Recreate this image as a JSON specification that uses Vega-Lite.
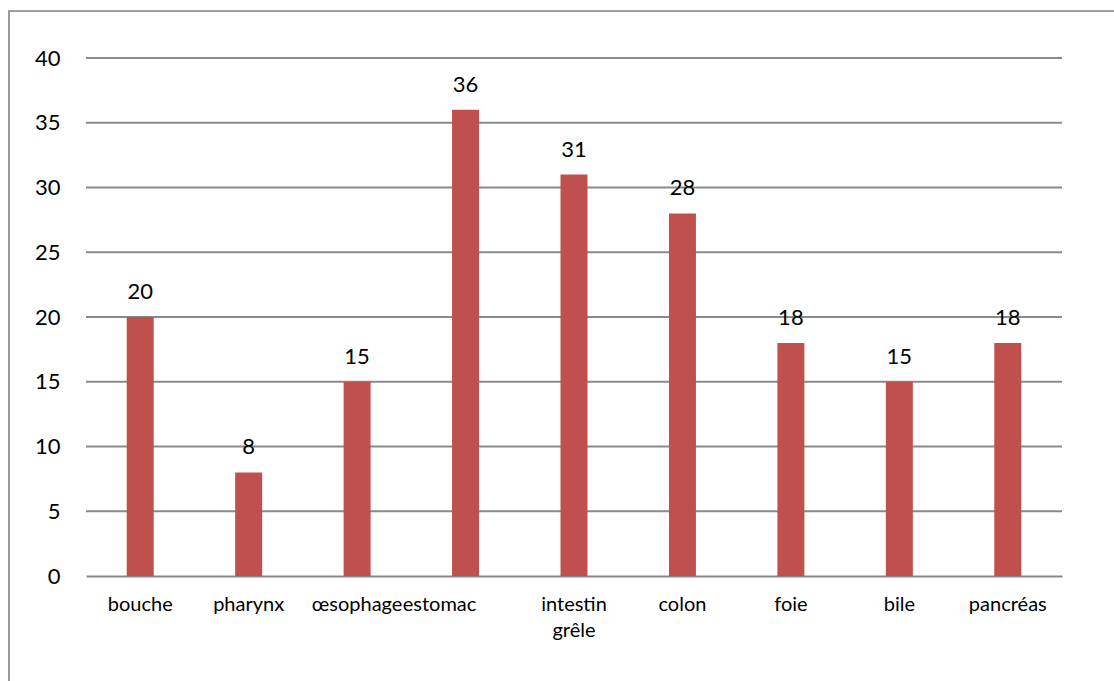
{
  "$schema": "https://vega.github.io/schema/vega-lite/v6.json",
  "autosize": {"type": "none"},
  "width": 976,
  "height": 518,
  "padding": {"left": 86, "top": 58, "right": 52, "bottom": 105},
  "background": "white",
  "config": {
    "view": {"stroke": null},
    "font": "Lato"
  },
  "datasets": {
    "organes": [
      {"organe": "bouche", "valeur": 20},
      {"organe": "pharynx", "valeur": 8},
      {"organe": "œsophage", "valeur": 15},
      {"organe": "estomac", "valeur": 36},
      {"organe": "intestin grêle", "valeur": 31},
      {"organe": "colon", "valeur": 28},
      {"organe": "foie", "valeur": 18},
      {"organe": "bile", "valeur": 15},
      {"organe": "pancréas", "valeur": 18}
    ],
    "grille": [
      {"valeur": 5}, {"valeur": 10}, {"valeur": 15}, {"valeur": 20},
      {"valeur": 25}, {"valeur": 30}, {"valeur": 35}, {"valeur": 40}
    ]
  },
  "data": {"name": "organes"},
  "layer": [
    {
      "description": "outer chart frame",
      "mark": {"type": "rect", "fill": null, "stroke": "#9a9a9a", "strokeWidth": 1.3},
      "encoding": {
        "x": {"datum": -0.0789, "type": "quantitative", "scale": {"domain": [0, 1], "nice": false, "zero": false}, "axis": null},
        "x2": {"datum": 1.2},
        "y": {"datum": 43.6, "type": "quantitative", "scale": {"domain": [0, 40], "nice": false}, "axis": null},
        "y2": {"datum": -12}
      }
    },
    {
      "layer": [
        {
          "data": {"name": "grille"},
          "mark": {"type": "rule", "color": "#8a8a8a", "strokeWidth": 2},
          "encoding": {
            "y": {"field": "valeur", "type": "quantitative"}
          }
        },
        {
          "mark": {"type": "bar", "color": "#C0504D", "width": 27},
          "encoding": {
            "x": {
              "field": "organe",
              "type": "nominal",
              "sort": null,
              "scale": {"paddingInner": 0, "paddingOuter": 0},
              "axis": {
                "title": null,
                "domainColor": "#8a8a8a",
                "domainWidth": 2,
                "ticks": false,
                "labelAngle": 0,
                "labelOverlap": false,
                "labelFontSize": 20,
                "labelColor": "#000000",
                "labelPadding": 18,
                "labelBaseline": "top",
                "labelLineHeight": 26,
                "labelExpr": "datum.label == 'intestin grêle' ? ['intestin', 'grêle'] : datum.label",
                "labelOffset": {"condition": {"test": "datum.value == 'estomac'", "value": -26}, "value": 0}
              }
            },
            "y": {
              "field": "valeur",
              "type": "quantitative",
              "scale": {"domain": [0, 40], "nice": false},
              "axis": {
                "title": null,
                "orient": "left",
                "values": [0, 5, 10, 15, 20, 25, 30, 35, 40],
                "domain": false,
                "ticks": false,
                "grid": false,
                "labelFontSize": 22,
                "labelColor": "#000000",
                "labelPadding": 26
              }
            }
          }
        },
        {
          "mark": {"type": "text", "fontSize": 22, "color": "#000000", "baseline": "alphabetic", "dy": -18},
          "encoding": {
            "x": {"field": "organe", "type": "nominal", "sort": null},
            "y": {"field": "valeur", "type": "quantitative"},
            "text": {"field": "valeur", "type": "quantitative"}
          }
        }
      ]
    }
  ],
  "resolve": {"scale": {"x": "independent", "y": "independent"}}
}
